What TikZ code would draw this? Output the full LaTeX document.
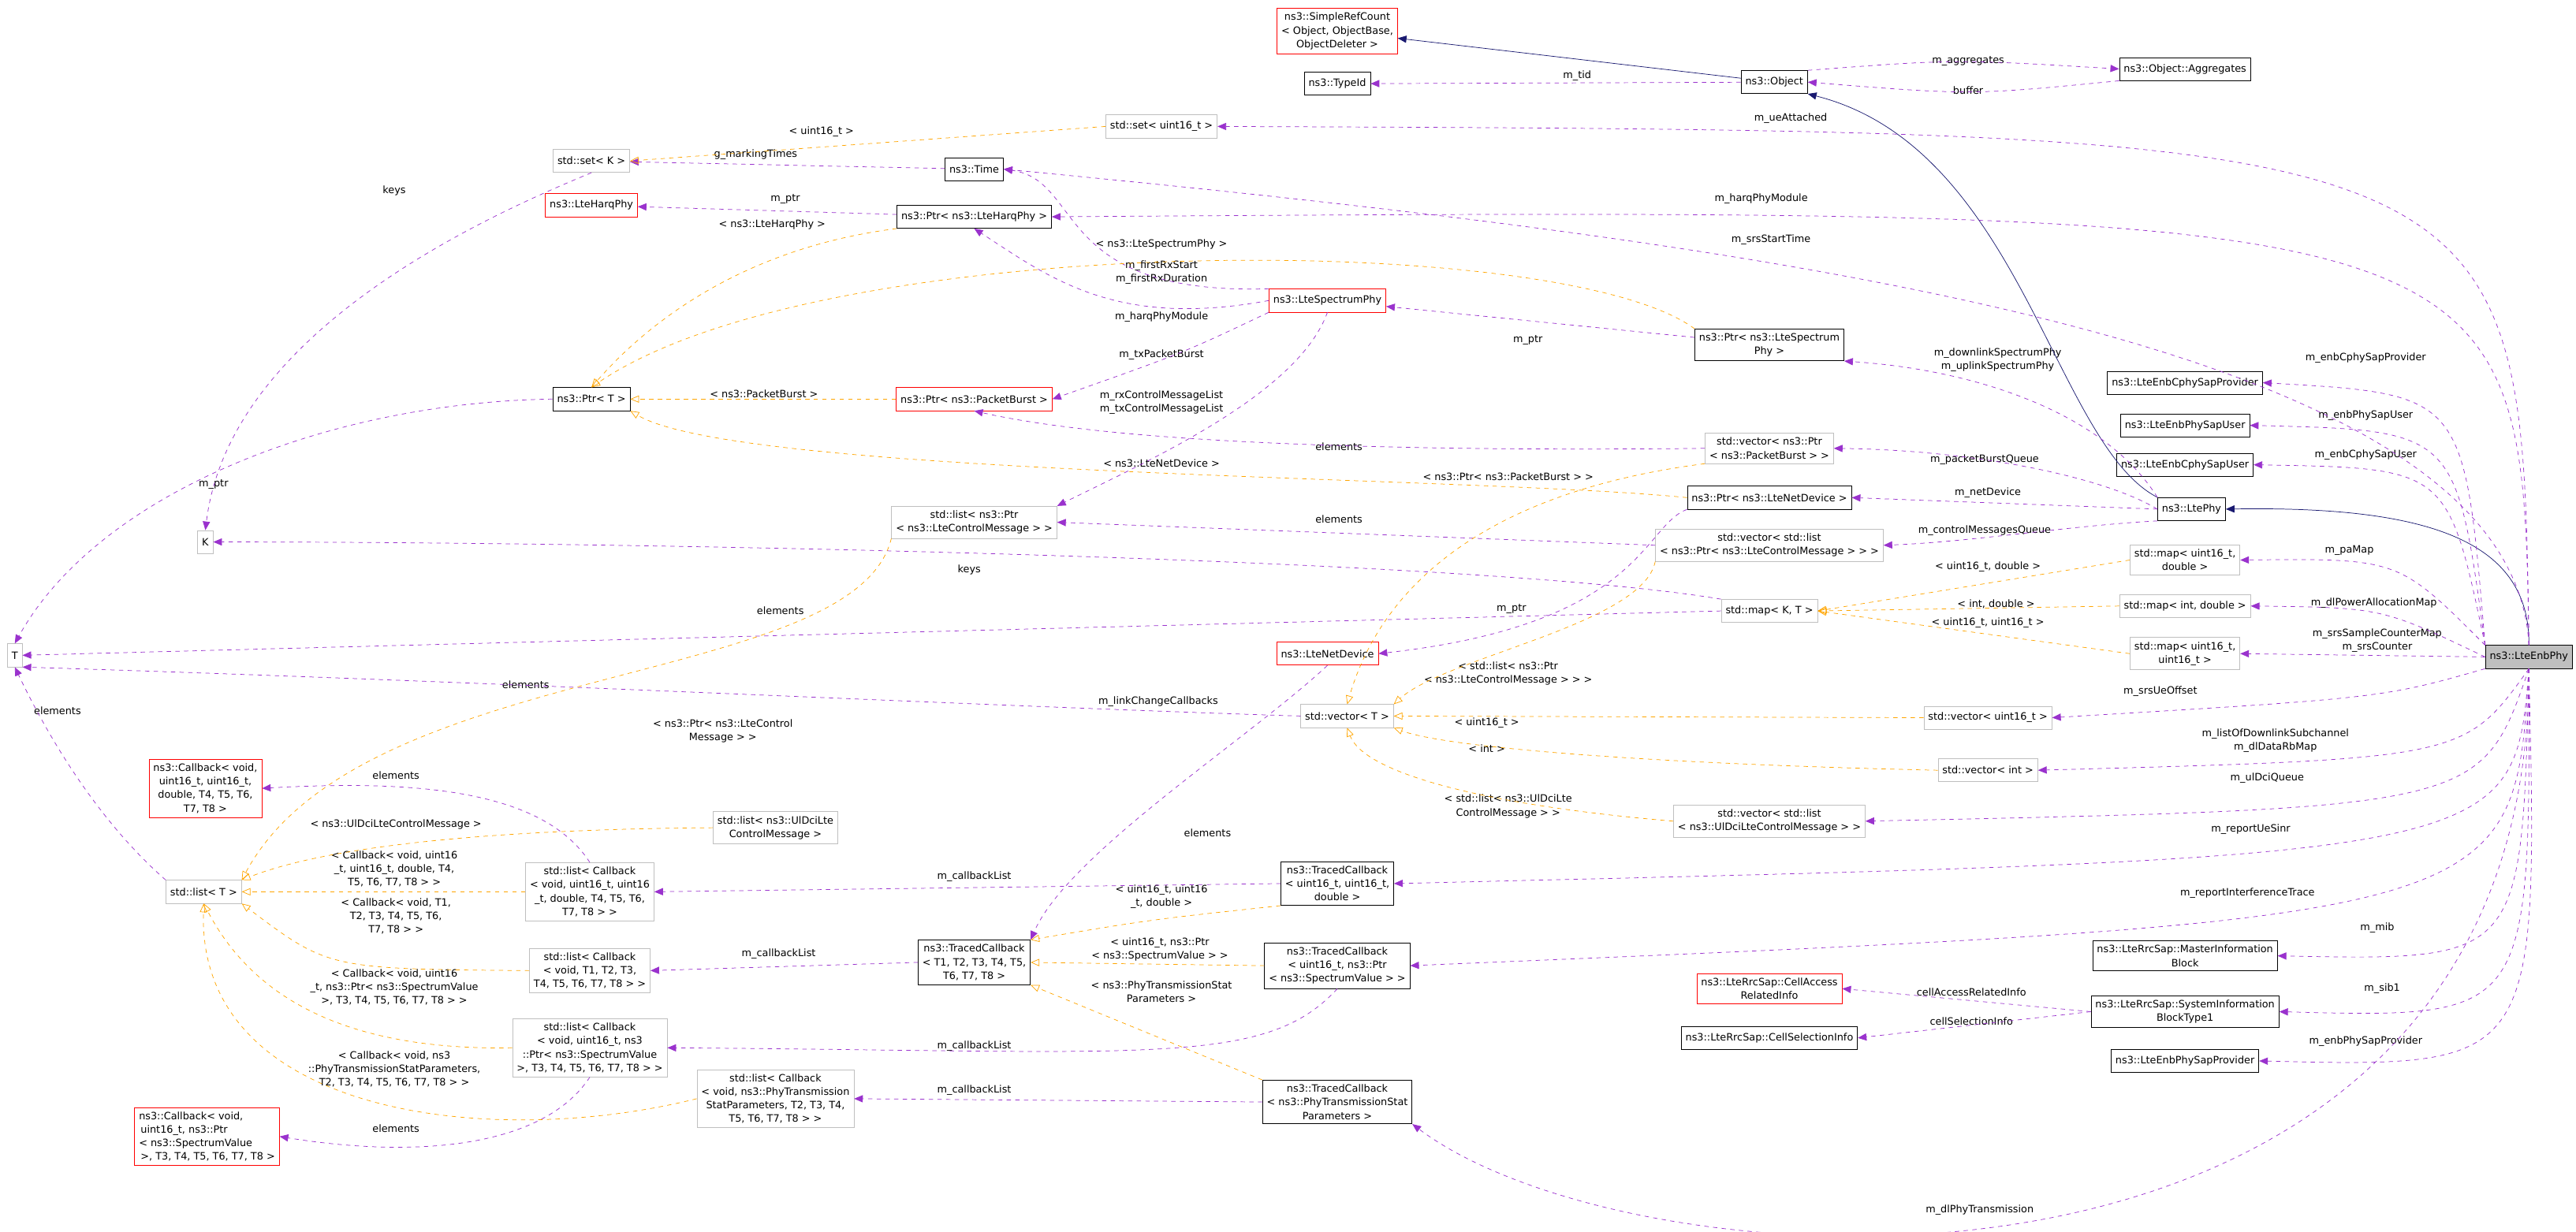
\documentclass[tikz,border=0pt]{standalone}
\usepackage{fontspec}
\setmainfont{DejaVu Sans}
\usetikzlibrary{arrows.meta}
\definecolor{purp}{HTML}{9A32CD}
\definecolor{orng}{HTML}{FFA500}
\definecolor{navy}{HTML}{191970}
\definecolor{gbd}{HTML}{BFBFBF}
\begin{document}
\begin{tikzpicture}[x=0.04cm,y=-0.04cm,
  every node/.style={font=\fontsize{7}{9.4}\selectfont},
  box/.style={draw=black,fill=white,inner sep=3pt,minimum height=0.56cm,align=center},
  gbox/.style={box,draw=gbd},
  rbox/.style={box,draw=red},
  lbl/.style={inner sep=0.5pt,align=center},
  pe/.style={draw=purp,dashed,-{Triangle[length=6pt,width=5pt]}},
  oe/.style={draw=orng,dashed,-{Triangle[open,length=6pt,width=5pt]}},
  ie/.style={draw=navy,-{Triangle[length=6pt,width=5pt]}}]
\useasboundingbox (0,0) rectangle (1568,750);
% nodes
\node[rbox] (src) at (814,19) {ns3::SimpleRefCount\\< Object, ObjectBase,\\ObjectDeleter >};
\node[box] (tid) at (814,51) {ns3::TypeId};
\node[box] (obj) at (1080,50) {ns3::Object};
\node[box] (agg) at (1330,42) {ns3::Object::Aggregates};
\node[gbox] (setu) at (707,77) {std::set< uint16\_t >};
\node[gbox] (setk) at (360,98) {std::set< K >};
\node[box] (time) at (593,103) {ns3::Time};
\node[rbox] (harq) at (360,125) {ns3::LteHarqPhy};
\node[box] (pharq) at (593,132) {ns3::Ptr< ns3::LteHarqPhy >};
\node[rbox] (sphy) at (808,183) {ns3::LteSpectrumPhy};
\node[box] (psphy) at (1077,210) {ns3::Ptr< ns3::LteSpectrum\\Phy >};
\node[box] (ptrt) at (360,243) {ns3::Ptr< T >};
\node[rbox] (ppb) at (593,243) {ns3::Ptr< ns3::PacketBurst >};
\node[gbox] (vppb) at (1077,273) {std::vector< ns3::Ptr\\< ns3::PacketBurst > >};
\node[box] (pnd) at (1077,303) {ns3::Ptr< ns3::LteNetDevice >};
\node[box] (ltephy) at (1334,310) {ns3::LtePhy};
\node[gbox] (lpcm) at (593,318) {std::list< ns3::Ptr\\< ns3::LteControlMessage > >};
\node[gbox] (vlcm) at (1077,332) {std::vector< std::list\\< ns3::Ptr< ns3::LteControlMessage > > >};
\node[gbox] (K) at (125,330) {K};
\node[gbox] (mud) at (1330,341) {std::map< uint16\_t,\\double >};
\node[gbox] (mkt) at (1077,372) {std::map< K, T >};
\node[gbox] (mid) at (1330,369) {std::map< int, double >};
\node[gbox] (T) at (9,399) {T};
\node[gbox] (muu) at (1330,398) {std::map< uint16\_t,\\uint16\_t >};
\node[rbox] (nd) at (808,398) {ns3::LteNetDevice};
\node[gbox] (vt) at (820,436) {std::vector< T >};
\node[gbox] (vu) at (1210,437) {std::vector< uint16\_t >};
\node[gbox] (vi) at (1210,469) {std::vector< int >};
\node[rbox] (cb1) at (125,480) {ns3::Callback< void,\\uint16\_t, uint16\_t,\\double, T4, T5, T6,\\T7, T8 >};
\node[gbox] (ldci) at (472,504) {std::list< ns3::UlDciLte\\ControlMessage >};
\node[gbox] (vldci) at (1077,500) {std::vector< std::list\\< ns3::UlDciLteControlMessage > >};
\node[gbox] (lt) at (124,543) {std::list< T >};
\node[gbox] (lcb1) at (359,543) {std::list< Callback\\< void, uint16\_t, uint16\\\_t, double, T4, T5, T6,\\T7, T8 > >};
\node[box] (tc1) at (814,538) {ns3::TracedCallback\\< uint16\_t, uint16\_t,\\double >};
\node[gbox] (lcbt) at (359,591) {std::list< Callback\\< void, T1, T2, T3,\\T4, T5, T6, T7, T8 > >};
\node[box] (tct) at (593,586) {ns3::TracedCallback\\< T1, T2, T3, T4, T5,\\T6, T7, T8 >};
\node[box] (tc2) at (814,588) {ns3::TracedCallback\\< uint16\_t, ns3::Ptr\\< ns3::SpectrumValue > >};
\node[gbox] (lcb2) at (359,638) {std::list< Callback\\< void, uint16\_t, ns3\\::Ptr< ns3::SpectrumValue\\>, T3, T4, T5, T6, T7, T8 > >};
\node[rbox,align=left] (cb2) at (126,692) {ns3::Callback< void,\\\,uint16\_t, ns3::Ptr\\< ns3::SpectrumValue\\\,>, T3, T4, T5, T6, T7, T8 >};
\node[gbox] (lcb3) at (472,669) {std::list< Callback\\< void, ns3::PhyTransmission\\StatParameters, T2, T3, T4,\\T5, T6, T7, T8 > >};
\node[box] (tc3) at (814,671) {ns3::TracedCallback\\< ns3::PhyTransmissionStat\\Parameters >};
\node[box] (ecsp) at (1330,233) {ns3::LteEnbCphySapProvider};
\node[box] (epsu) at (1330,259) {ns3::LteEnbPhySapUser};
\node[box] (ecsu) at (1330,283) {ns3::LteEnbCphySapUser};
\node[box,fill=gbd,anchor=east] (enb) at (1566,400) {ns3::LteEnbPhy};
\node[box] (mib) at (1330,582) {ns3::LteRrcSap::MasterInformation\\Block};
\node[rbox] (cari) at (1077,602) {ns3::LteRrcSap::CellAccess\\RelatedInfo};
\node[box] (sib) at (1330,616) {ns3::LteRrcSap::SystemInformation\\BlockType1};
\node[box] (csi) at (1077,632) {ns3::LteRrcSap::CellSelectionInfo};
\node[box] (epsp) at (1330,646) {ns3::LteEnbPhySapProvider};
% labels
\node[lbl] (l1) at (960,46) {m\_tid};
\node[lbl] (l2) at (1198,37) {m\_aggregates};
\node[lbl] (l3) at (1198,55) {buffer};
\node[lbl] (l4) at (1090,72) {m\_ueAttached};
\node[lbl] (l5) at (500,80) {< uint16\_t >};
\node[lbl] (l6) at (460,94) {g\_markingTimes};
\node[lbl] (l7) at (240,116) {keys};
\node[lbl] (l8) at (478,121) {m\_ptr};
\node[lbl] (l9) at (1072,121) {m\_harqPhyModule};
\node[lbl] (l10) at (470,137) {< ns3::LteHarqPhy >};
\node[lbl] (l11) at (1078,146) {m\_srsStartTime};
\node[lbl] (l12) at (707,149) {< ns3::LteSpectrumPhy >};
\node[lbl] (l13) at (707,166) {m\_firstRxStart\\m\_firstRxDuration};
\node[lbl] (l14) at (707,193) {m\_harqPhyModule};
\node[lbl] (l15) at (707,216) {m\_txPacketBurst};
\node[lbl] (l16) at (930,207) {m\_ptr};
\node[lbl] (l17) at (1216,219) {m\_downlinkSpectrumPhy\\m\_uplinkSpectrumPhy};
\node[lbl] (l18) at (465,240) {< ns3::PacketBurst >};
\node[lbl] (l19) at (707,245) {m\_rxControlMessageList\\m\_txControlMessageList};
\node[lbl] (l20) at (815,272) {elements};
\node[lbl] (l21) at (1208,280) {m\_packetBurstQueue};
\node[lbl] (l22) at (707,282) {< ns3::LteNetDevice >};
\node[lbl] (l23) at (130,295) {m\_ptr};
\node[lbl] (l24) at (918,290) {< ns3::Ptr< ns3::PacketBurst > >};
\node[lbl] (l25) at (1210,300) {m\_netDevice};
\node[lbl] (l26) at (815,316) {elements};
\node[lbl] (l27) at (1208,323) {m\_controlMessagesQueue};
\node[lbl] (l28) at (590,347) {keys};
\node[lbl] (l29) at (1210,345) {< uint16\_t, double >};
\node[lbl] (l30) at (920,371) {m\_ptr};
\node[lbl] (l31) at (475,372) {elements};
\node[lbl] (l32) at (1215,368) {< int, double >};
\node[lbl] (l33) at (1210,379) {< uint16\_t, uint16\_t >};
\node[lbl] (l34) at (1430,335) {m\_paMap};
\node[lbl] (l35) at (1445,367) {m\_dlPowerAllocationMap};
\node[lbl] (l36) at (1447,390) {m\_srsSampleCounterMap\\m\_srsCounter};
\node[lbl] (l37) at (918,410) {< std::list< ns3::Ptr\\< ns3::LteControlMessage > > >};
\node[lbl] (l38) at (320,417) {elements};
\node[lbl] (l39) at (705,427) {m\_linkChangeCallbacks};
\node[lbl] (l40) at (1315,421) {m\_srsUeOffset};
\node[lbl] (l41) at (905,440) {< uint16\_t >};
\node[lbl] (l42) at (440,445) {< ns3::Ptr< ns3::LteControl\\Message > >};
\node[lbl] (l43) at (35,433) {elements};
\node[lbl] (l44) at (241,472) {elements};
\node[lbl] (l45) at (905,456) {< int >};
\node[lbl] (l46) at (1385,451) {m\_listOfDownlinkSubchannel\\m\_dlDataRbMap};
\node[lbl] (l47) at (1380,474) {m\_ulDciQueue};
\node[lbl] (l48) at (918,491) {< std::list< ns3::UlDciLte\\ControlMessage > >};
\node[lbl] (l49) at (241,502) {< ns3::UlDciLteControlMessage >};
\node[lbl] (l50) at (735,507) {elements};
\node[lbl] (l51) at (1370,505) {m\_reportUeSinr};
\node[lbl] (l52) at (240,529) {< Callback< void, uint16\\\_t, uint16\_t, double, T4,\\T5, T6, T7, T8 > >};
\node[lbl] (l53) at (593,534) {m\_callbackList};
\node[lbl] (l54) at (707,546) {< uint16\_t, uint16\\\_t, double >};
\node[lbl] (l55) at (1368,544) {m\_reportInterferenceTrace};
\node[lbl] (l56) at (241,558) {< Callback< void, T1,\\T2, T3, T4, T5, T6,\\T7, T8 > >};
\node[lbl] (l57) at (474,581) {m\_callbackList};
\node[lbl] (l58) at (706,578) {< uint16\_t, ns3::Ptr\\< ns3::SpectrumValue > >};
\node[lbl] (l59) at (1447,565) {m\_mib};
\node[lbl] (l60) at (1200,604) {cellAccessRelatedInfo};
\node[lbl] (l61) at (240,601) {< Callback< void, uint16\\\_t, ns3::Ptr< ns3::SpectrumValue\\>, T3, T4, T5, T6, T7, T8 > >};
\node[lbl] (l62) at (707,604) {< ns3::PhyTransmissionStat\\Parameters >};
\node[lbl] (l63) at (1200,622) {cellSelectionInfo};
\node[lbl] (l64) at (1450,602) {m\_sib1};
\node[lbl] (l65) at (1440,634) {m\_enbPhySapProvider};
\node[lbl] (l66) at (593,637) {m\_callbackList};
\node[lbl] (l67) at (240,651) {< Callback< void, ns3\\::PhyTransmissionStatParameters,\\T2, T3, T4, T5, T6, T7, T8 > >};
\node[lbl] (l68) at (241,687) {elements};
\node[lbl] (l69) at (593,664) {m\_callbackList};
\node[lbl] (l70) at (1205,737) {m\_dlPhyTransmission};
\node[lbl] (l71) at (1440,218) {m\_enbCphySapProvider};
\node[lbl] (l72) at (1440,253) {m\_enbPhySapUser};
\node[lbl] (l73) at (1440,277) {m\_enbCphySapUser};
% inheritance
\draw[ie] (obj) -- (src);
\draw[ie] (ltephy.north west) .. controls (1250,270) and (1230,90) .. (obj.south east);
\draw[ie] (enb.north) .. controls (1540,330) and (1480,308) .. (ltephy.east);
% purple edges
\draw[pe] (obj) -- (tid);
\draw[pe] (obj.north east) .. controls (1190,36) .. (agg.west);
\draw[pe] (agg.south west) .. controls (1200,58) .. (obj.east);
\draw[pe] (enb.north) .. controls (1535,80) .. (setu.east);
\draw[pe] (time) -- (setk);
\draw[pe] (setk.south) .. controls (300,130) and (140,200) .. (K.north);
\draw[pe] (pharq) -- (harq);
\draw[pe] (enb.north) .. controls (1535,126) .. (pharq.east);
\draw[pe] (enb.north) .. controls (1530,210) and (1100,150) .. (time.east);
\draw[pe] (sphy.north west) .. controls (640,180) and (660,110) .. (time.east);
\draw[pe] (sphy.west) .. controls (680,200) and (640,170) .. (pharq.south);
\draw[pe] (psphy) -- (sphy);
\draw[pe] (sphy.south west) .. controls (720,215) .. (ppb.east);
\draw[pe] (sphy.south) .. controls (790,240) and (700,280) .. (lpcm.north east);
\draw[pe] (ptrt.west) .. controls (200,245) and (60,300) .. (T.north);
\draw[pe] (vppb.west) .. controls (850,275) and (680,270) .. (ppb.south);
\draw[pe] (ltephy.north west) .. controls (1280,250) and (1200,225) .. (psphy.south east);
\draw[pe] (ltephy.west) .. controls (1280,290) and (1200,274) .. (vppb.east);
\draw[pe] (ltephy.west) -- (pnd.east);
\draw[pe] (ltephy.south west) .. controls (1260,320) and (1200,330) .. (vlcm.east);
\draw[pe] (vlcm.west) -- (lpcm.east);
\draw[pe] (mkt.north west) .. controls (900,340) and (400,330) .. (K.east);
\draw[pe] (mkt.west) -- (T.east);
\draw[pe] (pnd.south west) .. controls (1000,320) and (1000,380) .. (nd.east);
\draw[pe] (vt.west) .. controls (600,430) and (300,415) .. (T.south east);
\draw[pe] (lt.north west) .. controls (60,500) and (30,450) .. (T.south);
\draw[pe] (nd.south) .. controls (760,450) and (650,520) .. (tct.north east);
\draw[pe] (enb.north west) .. controls (1500,240) .. (ecsp.east);
\draw[pe] (enb.north west) .. controls (1495,262) .. (epsu.east);
\draw[pe] (enb.north west) .. controls (1490,285) .. (ecsu.east);
\draw[pe] (enb.north west) .. controls (1460,340) .. (mud.east);
\draw[pe] (enb.west) .. controls (1450,370) .. (mid.east);
\draw[pe] (enb.west) -- (muu.east);
\draw[pe] (enb.south west) .. controls (1450,425) .. (vu.east);
\draw[pe] (enb.south) .. controls (1500,462) .. (vi.east);
\draw[pe] (enb.south) .. controls (1510,492) .. (vldci.east);
\draw[pe] (enb.south) .. controls (1530,522) .. (tc1.east);
\draw[pe] (enb.south) .. controls (1530,560) .. (tc2.east);
\draw[pe] (enb.south) .. controls (1535,585) .. (mib.east);
\draw[pe] (enb.south) .. controls (1540,620) .. (sib.east);
\draw[pe] (enb.south) .. controls (1545,650) .. (epsp.east);
\draw[pe] (enb.south) .. controls (1540,820) and (1000,790) .. (tc3.south east);
\draw[pe] (sib.west) -- (cari.east);
\draw[pe] (sib.west) -- (csi.east);
\draw[pe] (tc1.west) -- (lcb1.east);
\draw[pe] (tct.west) -- (lcbt.east);
\draw[pe] (tc2.south) .. controls (770,650) and (700,640) .. (lcb2.east);
\draw[pe] (tc3.west) -- (lcb3.east);
\draw[pe] (lcb1.north) .. controls (330,480) and (250,475) .. (cb1.east);
\draw[pe] (lcb2.south) .. controls (330,700) and (250,705) .. (cb2.east);
% orange edges
\draw[oe] (setu.west) -- (setk.east);
\draw[oe] (pharq.south west) .. controls (460,150) and (400,190) .. (ptrt.north);
\draw[oe] (psphy.north west) .. controls (950,140) and (500,140) .. (ptrt.north);
\draw[oe] (ppb.west) -- (ptrt.east);
\draw[oe] (pnd.west) .. controls (900,290) and (450,290) .. (ptrt.south east);
\draw[oe] (mud.west) -- (mkt.east);
\draw[oe] (mid.west) -- (mkt.east);
\draw[oe] (muu.west) -- (mkt.east);
\draw[oe] (vppb.south west) .. controls (900,300) and (840,360) .. (vt.north);
\draw[oe] (vlcm.south west) .. controls (1000,380) and (880,400) .. (vt.north east);
\draw[oe] (vu.west) -- (vt.east);
\draw[oe] (vi.west) .. controls (1000,465) and (880,455) .. (vt.south east);
\draw[oe] (vldci.west) .. controls (900,490) and (830,470) .. (vt.south);
\draw[oe] (lpcm.south west) .. controls (520,420) and (220,400) .. (lt.north east);
\draw[oe] (ldci.west) .. controls (300,505) and (200,515) .. (lt.north east);
\draw[oe] (lcb1.west) -- (lt.east);
\draw[oe] (lcbt.west) .. controls (200,590) .. (lt.south east);
\draw[oe] (lcb2.west) .. controls (200,640) and (150,600) .. (lt.south);
\draw[oe] (lcb3.west) .. controls (300,700) and (120,680) .. (lt.south);
\draw[oe] (tc1.south west) .. controls (700,560) .. (tct.north east);
\draw[oe] (tc2.west) -- (tct.east);
\draw[oe] (tc3.north west) .. controls (700,630) .. (tct.south east);
\end{tikzpicture}
\end{document}
